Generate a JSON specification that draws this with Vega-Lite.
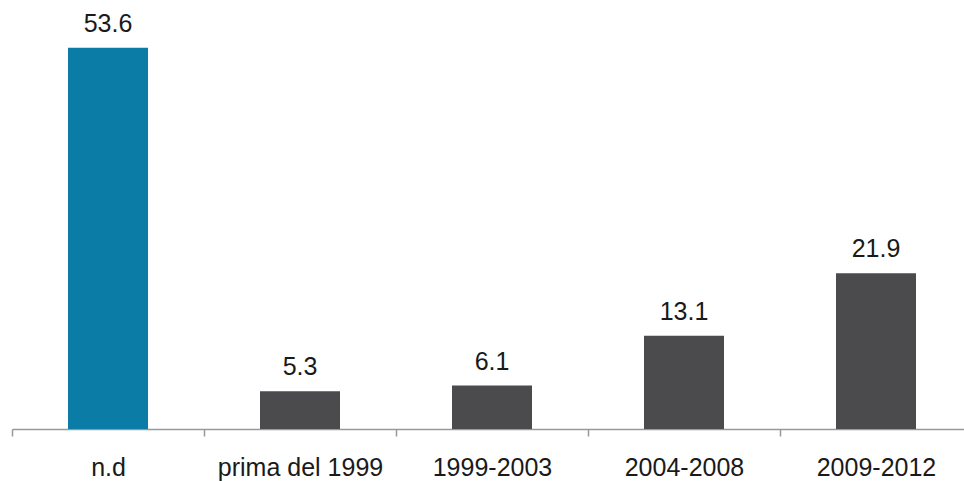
{
  "$schema": "https://vega.github.io/schema/vega-lite/v6.json",
  "width": 960,
  "height": 429,
  "autosize": "none",
  "padding": {"left": 12, "top": 0, "right": 0, "bottom": 52},
  "background": "white",
  "config": {"view": {"stroke": null}, "font": "Liberation Sans"},
  "data": {"values": [
    {"periodo": "n.d", "valore": 53.6},
    {"periodo": "prima del 1999", "valore": 5.3},
    {"periodo": "1999-2003", "valore": 6.1},
    {"periodo": "2004-2008", "valore": 13.1},
    {"periodo": "2009-2012", "valore": 21.9}
  ]},
  "encoding": {
    "x": {"field": "periodo", "type": "nominal", "sort": null,
      "scale": {"paddingInner": 0, "paddingOuter": 0},
      "axis": {"title": null, "labelAngle": 0, "tickBand": "extent", "domainColor": "#999999", "tickColor": "#999999", "domainWidth": 1.5, "tickWidth": 1.5, "tickSize": 7, "labelPadding": 39, "labelBaseline": "alphabetic", "labelFontSize": 25, "labelColor": "#1a1a1a", "labelFont": "Liberation Sans"}},
    "y": {"field": "valore", "type": "quantitative", "scale": {"domain": [0, 60.3], "nice": false}, "axis": null}
  },
  "layer": [
    {"mark": {"type": "bar", "width": 80},
     "encoding": {"color": {"condition": {"test": "datum.periodo === 'n.d'", "value": "#0a7ca6"}, "value": "#4b4b4d"}}},
    {"mark": {"type": "text", "baseline": "alphabetic", "dy": -16, "fontSize": 25, "color": "#1a1a1a", "font": "Liberation Sans"},
     "encoding": {"text": {"field": "valore", "type": "quantitative", "format": ".1f"}}}
  ]
}
